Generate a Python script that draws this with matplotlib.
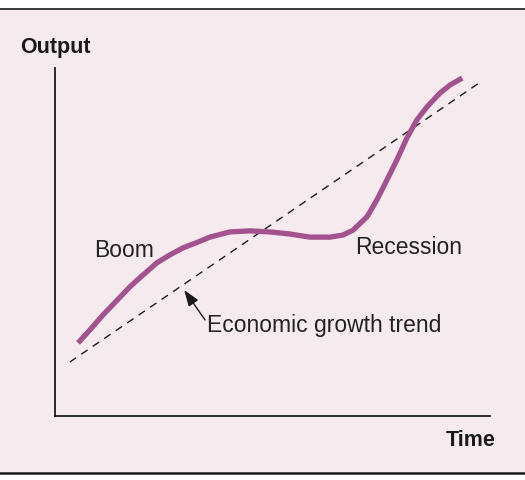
import matplotlib
matplotlib.use("Agg")
import matplotlib.pyplot as plt
from matplotlib.patches import Rectangle
from matplotlib.lines import Line2D

# =========================
# Data (axes run 0..100)
# =========================

time_pts = [5.3, 8.0, 11.0, 14.3, 17.2, 20.2, 23.4, 26.4, 29.4, 32.9,
            35.6, 40.2, 44.8, 49.4, 54.0, 58.6, 63.2, 66.2, 68.5, 71.7,
            74.0, 76.3, 78.6, 80.9, 83.2, 85.5, 88.5, 90.8, 93.6]
output_pts = [21.0, 24.7, 29.0, 33.3, 37.1, 40.5, 44.0, 46.3, 48.3, 50.0,
              51.4, 52.9, 53.2, 52.9, 52.3, 51.4, 51.4, 52.0, 53.4, 57.2,
              62.1, 67.8, 73.6, 79.9, 85.1, 88.8, 92.8, 95.1, 97.1]

trend_time = [3.4, 97.5]
trend_output = [15.5, 95.7]

labels = ["Boom", "Recession"]
label_pos = [(9.0, 47.7), (69.0, 48.3)]

trend_label = "Economic growth trend"
arrow_tip = (29.7, 36.2)
arrow_tail = (34.5, 27.6)

BG = "#f5ebef"
PURPLE = "#a3518f"
FONT = "Liberation Sans"

W, H = 525, 480

# =========================
# Figure
# =========================

fig = plt.figure(figsize=(W / 100, H / 100), dpi=100)
fig.patch.set_facecolor("white")

# pink panel between the two rules
fig.patches.append(Rectangle((0, 1 - 473 / H), 1, (473 - 9) / H,
                             transform=fig.transFigure, facecolor=BG,
                             edgecolor="none", zorder=-5))
fig.lines.append(Line2D([0, 1], [1 - 9 / H] * 2, transform=fig.transFigure,
                        color="#1a1a1a", lw=1.2, zorder=-4))
fig.lines.append(Line2D([0, 1], [1 - 473 / H] * 2, transform=fig.transFigure,
                        color="#1a1a1a", lw=1.8, zorder=-4))

ax = fig.add_axes([55 / W, 1 - 416 / H, (490 - 55) / W, (416 - 68) / H])
ax.set_facecolor("none")
ax.set_xlim(0, 100)
ax.set_ylim(0, 100)
for s in ["top", "right"]:
    ax.spines[s].set_visible(False)
for s in ["left", "bottom"]:
    ax.spines[s].set_linewidth(1.3)
    ax.spines[s].set_color("#1a1a1a")
ax.set_xticks([])
ax.set_yticks([])

ax.plot(trend_time, trend_output, color="#1a1a1a", lw=1.0,
        dashes=(5.5, 4.5), zorder=2)
ax.plot(time_pts, output_pts, color=PURPLE, lw=3.8,
        solid_capstyle="butt", solid_joinstyle="round", zorder=3)

for txt, (x, y) in zip(labels, label_pos):
    ax.text(x, y, txt, ha="left", va="center", fontsize=16.5,
            family=FONT, color="#222222")

ax.annotate("", xy=arrow_tip, xytext=arrow_tail,
            arrowprops=dict(arrowstyle="-|>,head_length=0.7,head_width=0.25",
                            color="#1a1a1a", lw=1.0, shrinkA=0, shrinkB=0,
                            mutation_scale=14))
ax.text(34.9, 26.1, trend_label, ha="left", va="center", fontsize=16.5,
        family=FONT, color="#222222")

fig.text(20 / W, 1 - 47 / H, "Output", ha="left", va="center",
         fontsize=15.5, fontweight="bold", family=FONT, color="#1a1a1a")
fig.text(496 / W, 1 - 440 / H, "Time", ha="right", va="center",
         fontsize=15.5, fontweight="bold", family=FONT, color="#1a1a1a")

fig.savefig("out.png", dpi=100, facecolor=fig.get_facecolor())
